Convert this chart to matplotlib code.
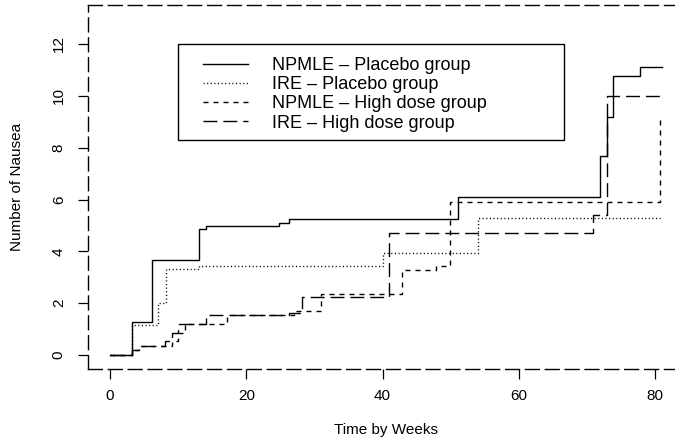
import matplotlib
matplotlib.use("Agg")
import matplotlib.pyplot as plt
from matplotlib.patches import Rectangle

plt.rcParams['font.family'] = ['Liberation Sans', 'DejaVu Sans']

# --- data (step functions, value changes at each time) ---
npmle_pl_t = [0, 3.2, 6.1, 13.1, 14.1, 24.8, 26.2, 51.0, 71.9, 72.9, 73.8, 77.8, 81]
npmle_pl_y = [0, 1.27, 3.67, 4.86, 4.97, 5.08, 5.25, 6.11, 7.66, 9.2, 10.78, 11.1, 11.1]

ire_pl_t = [0, 3.2, 7.1, 8.2, 13.1, 40.0, 54.0, 81]
ire_pl_y = [0, 1.16, 2.0, 3.3, 3.43, 3.93, 5.29, 5.29]

npmle_hd_t = [0, 3.2, 4.2, 9.1, 10.0, 11.0, 17.1, 27.0, 31.0, 42.9, 47.9, 49.9, 80.7, 81]
npmle_hd_y = [0, 0.2, 0.35, 0.55, 0.86, 1.2, 1.55, 1.71, 2.34, 3.28, 3.43, 5.92, 9.2, 9.2]

ire_hd_t = [0, 3.2, 4.2, 8.1, 9.1, 10.0, 14.1, 26.2, 28.1, 41.0, 70.9, 72.9, 81]
ire_hd_y = [0, 0.2, 0.35, 0.55, 0.86, 1.2, 1.55, 1.62, 2.25, 4.72, 5.4, 10.0, 10.0]

labels = ["NPMLE \u2013 Placebo group", "IRE \u2013 Placebo group",
          "NPMLE \u2013 High dose group", "IRE \u2013 High dose group"]

# R-like line types
solid = '-'
dotted = (0, (0.8, 1.8))
dashed = (0, (3.6, 3.6))
longdash = (0, (10, 4.3))

fig = plt.figure(figsize=(6.75, 4.43), dpi=100)
ax = fig.add_axes([88 / 675, (443 - 368.5) / 443, (684 - 88) / 675, 363.9 / 443])

lw = 1.0
ax.step(npmle_pl_t, npmle_pl_y, where='post', color='black', lw=lw, ls=solid, label=labels[0])
ax.step(ire_pl_t, ire_pl_y, where='post', color='black', lw=lw, ls=dotted, label=labels[1])
ax.step(npmle_hd_t, npmle_hd_y, where='post', color='black', lw=lw, ls=dashed, label=labels[2])
ax.step(ire_hd_t, ire_hd_y, where='post', color='black', lw=lw, ls=longdash, label=labels[3])

ax.set_xlim(-3.24, 84.24)
ax.set_ylim(-0.52, 13.52)
ax.set_xticks([0, 20, 40, 60, 80])
ax.set_yticks([0, 2, 4, 6, 8, 10, 12])

for s in ax.spines.values():
    s.set_linestyle(longdash)
    s.set_linewidth(1.0)

ax.tick_params(axis='both', direction='out', length=7, width=0.9, labelsize=11)
ax.tick_params(axis='x', pad=8)
ax.tick_params(axis='y', pad=9)
for t in ax.get_yticklabels():
    t.set_rotation(90)
    t.set_va('center')

ax.set_xlabel("Time by Weeks", fontsize=11, labelpad=14)
ax.set_ylabel("Number of Nausea", fontsize=11, labelpad=20)

# legend box and entries
fig.patches.append(Rectangle((178 / 675, 1 - 140 / 443), (564 - 178) / 675, 96 / 443,
                             transform=fig.transFigure, fill=False, edgecolor='black', lw=1.0))
leg = fig.legend(loc='upper left', bbox_to_anchor=(203 / 675, 1 - 57 / 443),
                 frameon=False, fontsize=13, handlelength=2.5, handletextpad=1.33,
                 labelspacing=0.12, borderpad=0, borderaxespad=0)

fig.savefig("out.png", dpi=100)
